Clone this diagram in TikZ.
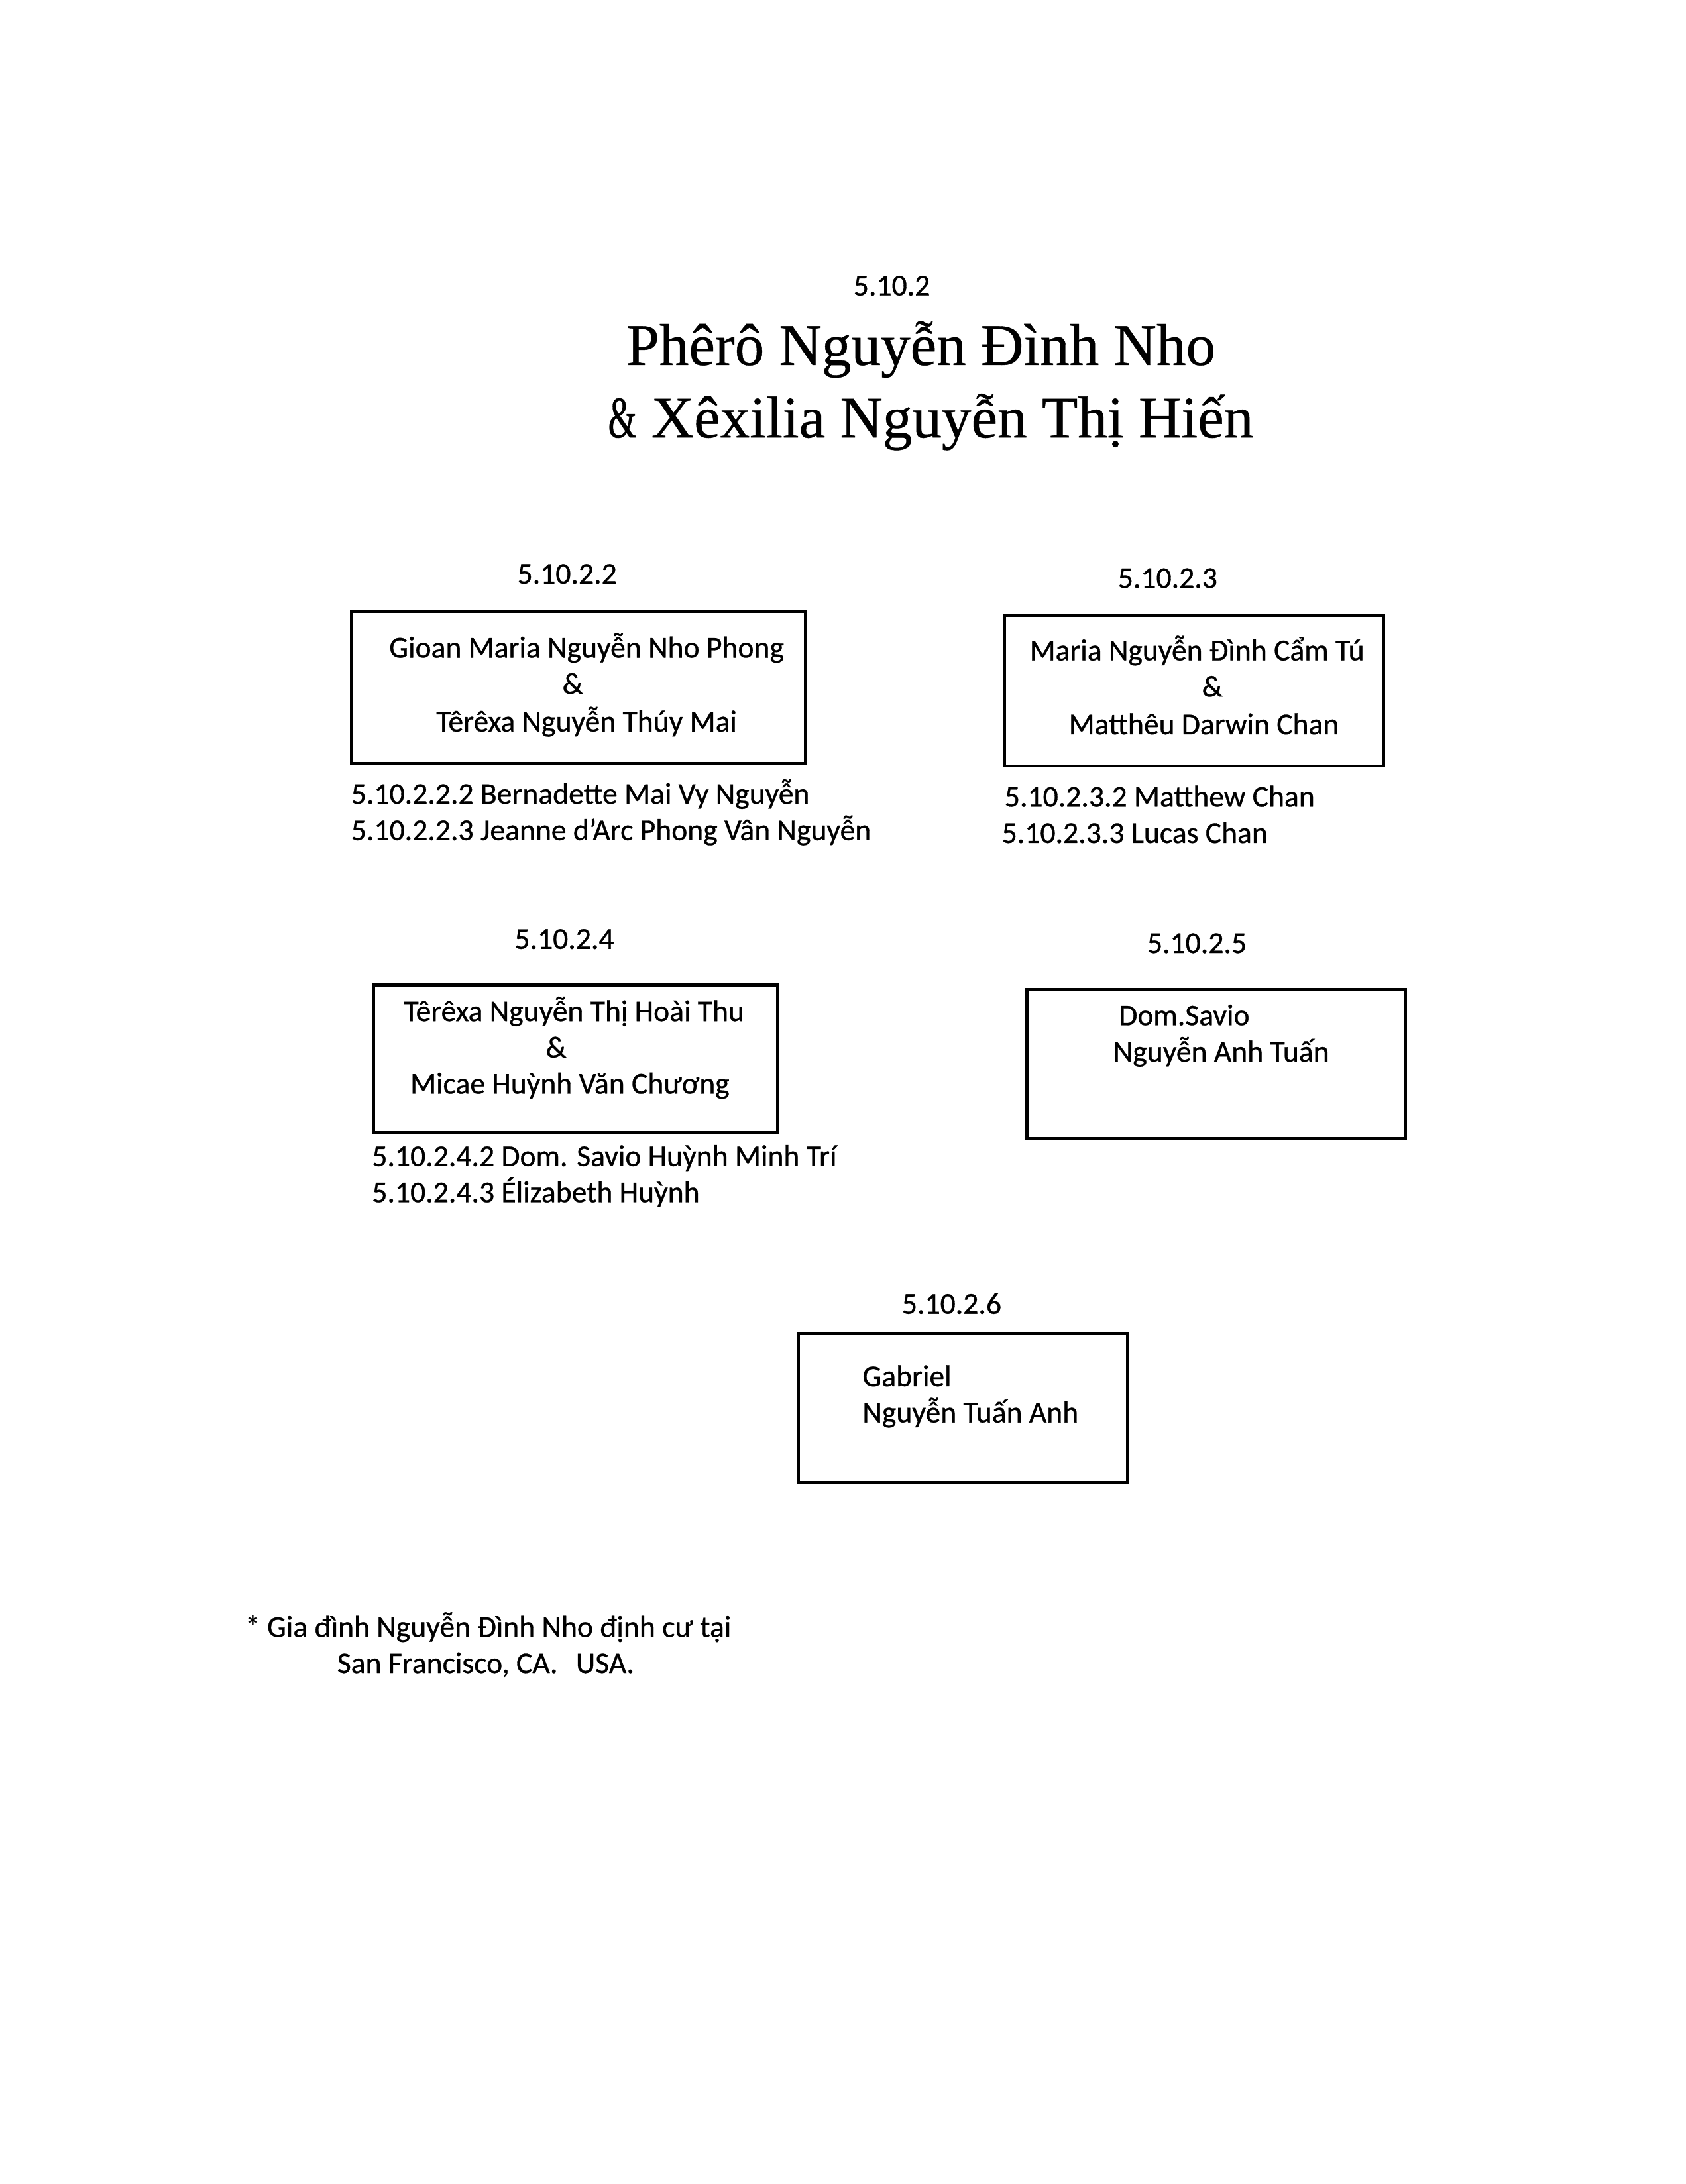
\documentclass[tikz,border=0pt]{standalone}
\usepackage{fontspec}
\setmainfont[FakeBold=0.7]{Carlito}
\newfontfamily\titlefont[FakeBold=0.5]{Liberation Serif}
\usetikzlibrary{fit}
\begin{document}
\begin{tikzpicture}[x=0.5pt,y=-0.5pt,
  every node/.style={inner sep=0pt, outer sep=0pt},
  body/.style={font=\fontsize{10.85}{13}\selectfont},
  lft/.style={body, anchor=base west},
  ctr/.style={body, anchor=base},
  ttl/.style={anchor=base, font=\titlefont\fontsize{21.2}{25}\selectfont},
  fambox/.style={draw, line width=1pt, inner sep=0pt, fit={#1}}]
\useasboundingbox (0,0) rectangle (1210,1567.7);

% title
\node[ctr] (t0) at (640,212) {5.10.2};
\node[ttl] (t1) at (661,262) {Phêrô Nguyễn Đình Nho};
\node[ttl] (t2) at (668,314) {\scalebox{0.62}[1]{\&}\hspace{0.25em}Xêxilia Nguyễn Thị Hiến};

% 5.10.2.2
\node[ctr] (l2) at (407,419) {5.10.2.2};
\node[fambox={(252,439) (578,548)}] (b2) {};
\node[ctr] (b2a) at (421,472) {Gioan Maria Nguyễn Nho Phong};
\node[ctr] (b2b) at (411,498) {\&};
\node[ctr] (b2c) at (421,525) {Têrêxa Nguyễn Thúy Mai};
\node[lft] (c2a) at (252,577) {5.10.2.2.2 Bernadette Mai Vy Nguyễn};
\node[lft] (c2b) at (252,603) {5.10.2.2.3 Jeanne d’Arc Phong Vân Nguyễn};

% 5.10.2.3
\node[ctr] (l3) at (838,422) {5.10.2.3};
\node[fambox={(721,442) (993,550)}] (b3) {};
\node[ctr] (b3a) at (859,474) {Maria Nguyễn Đình Cẩm Tú};
\node[ctr] (b3b) at (870,500) {\&};
\node[ctr] (b3c) at (864,527) {Matthêu Darwin Chan};
\node[lft] (c3a) at (721,579) {5.10.2.3.2 Matthew Chan};
\node[lft] (c3b) at (719,605) {5.10.2.3.3 Lucas Chan};

% 5.10.2.4
\node[ctr] (l4) at (405,681) {5.10.2.4};
\node[fambox={(268,707) (558,813)}] (b4) {};
\node[ctr] (b4a) at (412,733) {Têrêxa Nguyễn Thị Hoài Thu};
\node[ctr] (b4b) at (399,759) {\&};
\node[ctr] (b4c) at (409,785) {Micae Huỳnh Văn Chương};
\node[lft] (c4a) at (267,837) {5.10.2.4.2 Dom. Savio Huỳnh Minh Trí};
\node[lft] (c4b) at (267,863) {5.10.2.4.3 Élizabeth Huỳnh};

% 5.10.2.5
\node[ctr] (l5) at (859,684) {5.10.2.5};
\node[fambox={(737,710) (1009,817)}] (b5) {};
\node[lft] (b5a) at (803,736) {Dom.Savio};
\node[lft] (b5b) at (799,762) {Nguyễn Anh Tuấn};

% 5.10.2.6
\node[ctr] (l6) at (683,943) {5.10.2.6};
\node[fambox={(573,957) (809,1064)}] (b6) {};
\node[lft] (b6a) at (619,995) {Gabriel};
\node[lft] (b6b) at (619,1021) {Nguyễn Tuấn Anh};

% footnote
\node[lft] (f1) at (176,1175) {* Gia đình Nguyễn Đình Nho định cư tại};
\node[lft] (f2) at (242,1201) {San Francisco, CA.\hspace{0.6em}USA.};
\end{tikzpicture}
\end{document}
